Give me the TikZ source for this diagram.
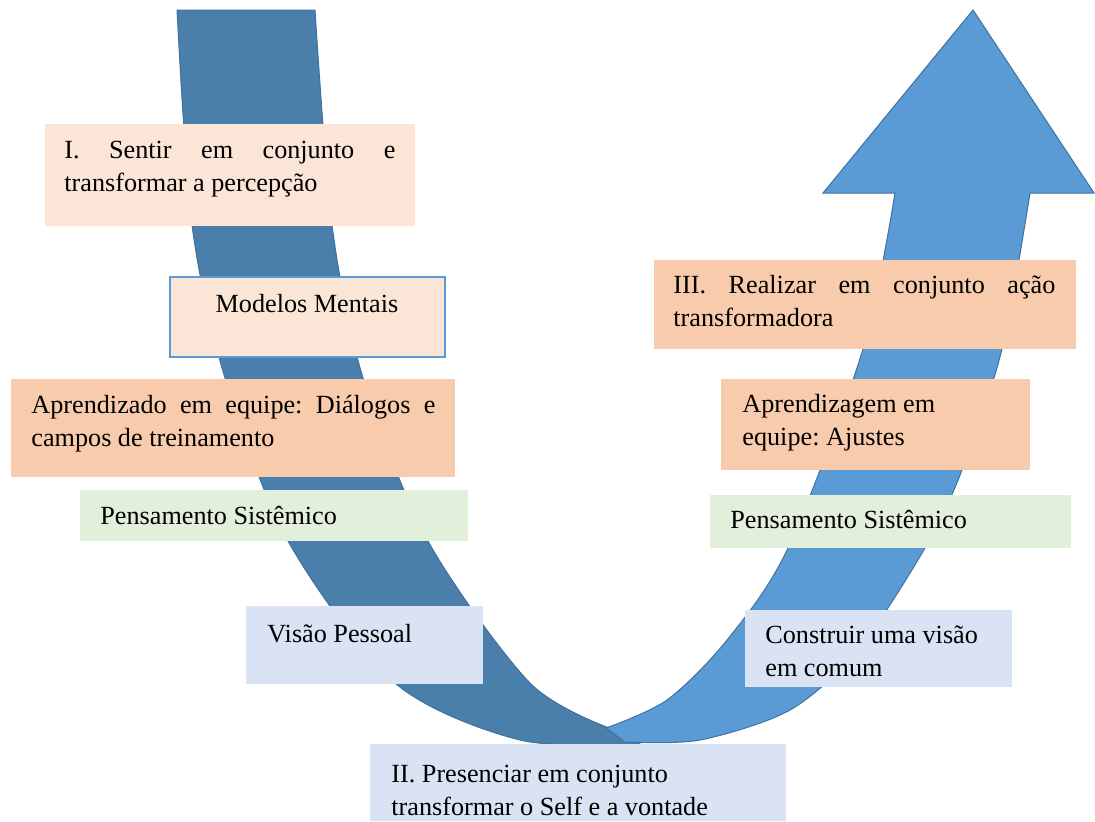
\documentclass[tikz,border=0pt]{standalone}
\usepackage{fontspec}
\setmainfont{Liberation Serif}

\definecolor{stripdark}{HTML}{4A7EAB}
\definecolor{arrowlight}{HTML}{5B9BD5}
\definecolor{edgeblue}{HTML}{41719C}
\definecolor{peachlight}{HTML}{FBE5D6}
\definecolor{peach}{HTML}{F8CBAD}
\definecolor{greenlight}{HTML}{E2EFDA}
\definecolor{bluelight}{HTML}{DAE3F3}
\newcommand{\wgap}{\hskip 0pt plus 1filll\relax}

\begin{document}
\begin{tikzpicture}[x=0.5pt, y=-0.5pt,
    txt/.style={anchor=base west, inner sep=0pt, font=\fontsize{13.1}{16.5}\selectfont\frenchspacing, align=flush left}]
            \useasboundingbox (0,0) rectangle (1095,821);
            % descending strip
            \filldraw[fill=stripdark, draw=edgeblue, line width=0.5pt]
                plot[smooth] coordinates {(177,10) (192,225) (225,378) (288,541) (395,683) (520,740) (640,744)}
                -- plot[smooth] coordinates {(612,729) (530,683) (428,541) (363,378) (332,225) (315,10)}
                -- cycle;
            % rising arrow
            \filldraw[fill=arrowlight, draw=edgeblue, line width=0.5pt]
                (606,728) -- plot[smooth] coordinates {(625,742) (700,740) (790,710) (858,650) (925,548) (962,470) (1002,349) (1030,193)}
                -- (1094,193) -- (973,10) -- (823,193) -- (895,193)
                -- plot[smooth] coordinates {(895,193) (863,349) (788,548) (727,640) (667,700) (606,728)}
                -- cycle;
            % boxes
            \fill[peachlight] (45,124) rectangle (415,226);
            \filldraw[fill=peachlight, draw=arrowlight, line width=1pt] (170,277) rectangle (445,357);
            \fill[peach] (11,379) rectangle (455,477);
            \fill[greenlight] (80,490) rectangle (468,541);
            \fill[bluelight] (246,606) rectangle (483,684);
            \fill[bluelight] (370,744) rectangle (786,821);
            \fill[peach] (654,260) rectangle (1076,349);
            \fill[peach] (721,379) rectangle (1030,470);
            \fill[greenlight] (710,495) rectangle (1071,548);
            \fill[bluelight] (745,610) rectangle (1012,687);
            % texts
            \node[txt, text width=165.5pt] (sentir) at (64,158) {I.\wgap Sentir\wgap em\wgap conjunto\wgap e\\transformar a percepção};
            \node[txt, anchor=base] (modelos) at (307,312) {Modelos Mentais};
            \node[txt, text width=202pt] (dialogos) at (31,413) {Aprendizado\wgap em\wgap equipe:\wgap Diálogos\wgap e\\campos de treinamento};
            \node[txt] (sistemicoL) at (100,524) {Pensamento Sistêmico};
            \node[txt] (pessoal) at (267,642) {Visão Pessoal};
            \node[txt, text width=190pt] (presenciar) at (391,782) {II. Presenciar em conjunto\\transformar o Self e a vontade};
            \node[txt, text width=191pt] (realizar) at (673,293) {III.\wgap Realizar\wgap em\wgap conjunto\wgap ação\\transformadora};
            \node[txt, text width=140pt] (ajustes) at (742,412) {Aprendizagem em\\equipe: Ajustes};
            \node[txt, text width=125pt] (comum) at (765,643) {Construir uma visão\\em comum};
            \node[txt] (sistemicoR) at (730,528) {Pensamento Sistêmico};
\end{tikzpicture}
\end{document}
